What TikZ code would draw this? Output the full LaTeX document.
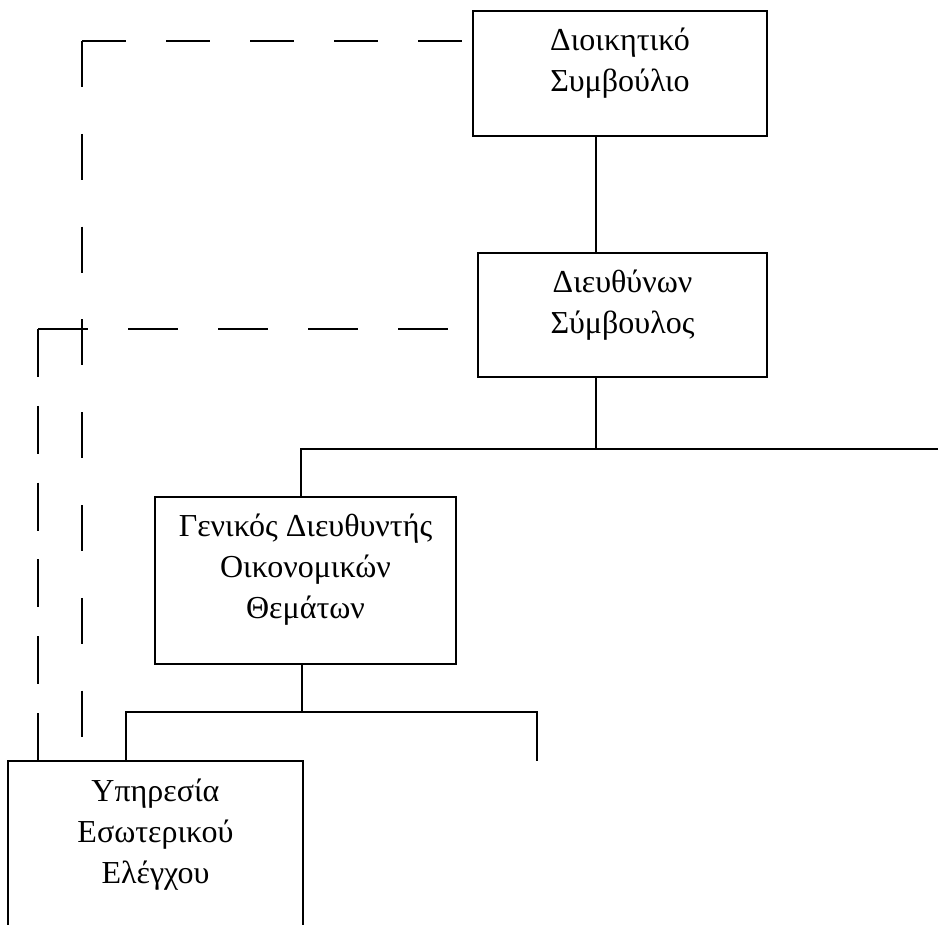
\documentclass[tikz,border=0pt]{standalone}
\usepackage{fontspec}
\setmainfont{Liberation Serif}
\newcommand{\boxtext}[3]{\parbox[t][#1][t]{#2}{\centering\rule{0pt}{20pt}#3}}
\tikzset{
  orgbox/.style={draw, line width=0.7pt, inner sep=0pt, font=\fontsize{16pt}{20.5pt}\selectfont},
  link/.style={line width=0.7pt},
  dashlink/.style={line width=0.7pt, dash pattern=on 22pt off 20pt},
}
\begin{document}
\begin{tikzpicture}[x=0.5pt,y=-0.5pt]
\clip (0,0) rectangle (938,925);
% boxes
\node[orgbox] (board) at (620,73.5) {\boxtext{62.5pt}{147pt}{Διοικητικό\\Συμβούλιο}};
\node[orgbox] (ceo) at (622.5,315) {\boxtext{62pt}{144.5pt}{Διευθύνων\\Σύμβουλος}};
\node[orgbox] (gm) at (305.5,580.5) {\boxtext{83.5pt}{150.5pt}{Γενικός Διευθυντής\\Οικονομικών\\Θεμάτων}};
\node[orgbox] (audit) at (155.5,861) {\boxtext{100pt}{147.5pt}{Υπηρεσία\\Εσωτερικού\\Ελέγχου}};
% helper points
\coordinate (spine) at (596,449);
\coordinate (busL) at (301,449);
\coordinate (busR) at (938,449);
\coordinate (drop) at (302,712);
\coordinate (subL) at (126,712);
\coordinate (subR) at (537,712);
\coordinate (stub) at (537,761);
\coordinate (cornerA) at (82,41);
\coordinate (boardend) at (82,737);
\coordinate (cornerB) at (38,329);
% solid lines
\draw[link] (board.south -| spine) -- (ceo.north -| spine);
\draw[link] (ceo.south -| spine) -- (spine);
\draw[link] (gm.north -| busL) -- (busL) -- (busR);
\draw[link] (gm.south -| drop) -- (drop);
\draw[link] (audit.north -| subL) -- (subL) -- (subR) -- (stub);
% dashed lines
\draw[dashlink] (cornerA) -- (board.west |- cornerA);
\draw[dashlink, dash pattern=on 23pt off 23.4pt] (cornerA) -- (boardend);
\draw[dashlink, dash pattern=on 25pt off 20pt] (cornerB) -- (ceo.west |- cornerB);
\draw[dashlink, dash pattern=on 24pt off 14.4pt] (cornerB) -- (audit.north -| cornerB);
\end{tikzpicture}
\end{document}
